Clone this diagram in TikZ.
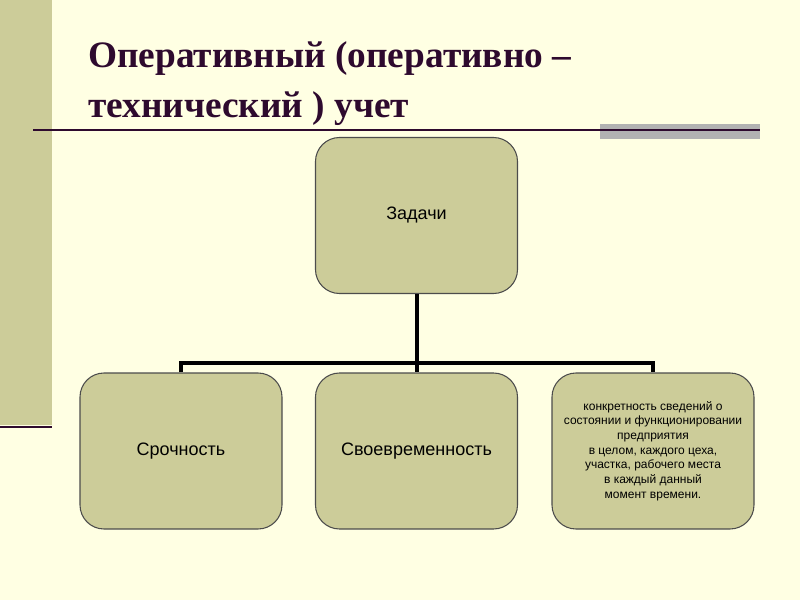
\documentclass[tikz,border=0pt]{standalone}
\usepackage{fontspec}
\setmainfont{Liberation Sans}
\newfontfamily\titlefont{Liberation Serif}
\definecolor{bg}{HTML}{FFFFE3}
\definecolor{bar}{HTML}{CCCC99}
\definecolor{plum}{HTML}{2E0A2E}
\definecolor{boxfill}{HTML}{CCCC99}
\definecolor{grayb}{HTML}{B2B2B2}
\tikzset{task/.style={draw=black!70,fill=boxfill,rounded corners=18pt,line width=0.8pt,minimum width=151.5pt,minimum height=117pt,align=center,inner sep=2pt},
conn/.style={line width=3pt,black}}
\begin{document}
\begin{tikzpicture}[x=0.75pt,y=-0.75pt]
\useasboundingbox (0,0) rectangle (800,600);
\fill[bg] (0,0) rectangle (800,600);
\fill[bar] (0,0) rectangle (52,425);
\draw[plum,line width=2.2pt] (0,427) -- (52,427);
\fill[grayb] (600,124) rectangle (760,139);
\draw[plum,line width=1.3pt] (33,130) -- (760,130);
\node[anchor=base west,inner sep=0,plum,font=\titlefont\bfseries\fontsize{28}{30}\selectfont] (t1) at (88,67) {Оперативный (оперативно –};
\node[anchor=base west,inner sep=0,plum,font=\titlefont\bfseries\fontsize{28}{30}\selectfont] (t2) at (88,117) {технический ) учет};
\node[task,font=\fontsize{13.5}{16}\selectfont] (z) at (416.5,215.5) {Задачи};
\node[task,font=\fontsize{13.5}{16}\selectfont] (a) at (181,451) {Срочность};
\node[task,font=\fontsize{13.5}{16}\selectfont] (b) at (416.5,451) {Своевременность};
\node[task,font=\fontsize{9}{11}\selectfont] (c) at (653,451) {конкретность сведений о\\состоянии и функционировании\\предприятия\\в целом, каждого цеха,\\участка, рабочего места\\в каждый данный\\момент времени.};
\coordinate (j) at (416.5,363);
\draw[conn] (z.south) -- (j);
\draw[conn] (a.north) -- (a.north |- j) -- (c.north |- j) -- (c.north);
\draw[conn] (j) -- (b.north);
\end{tikzpicture}
\end{document}
